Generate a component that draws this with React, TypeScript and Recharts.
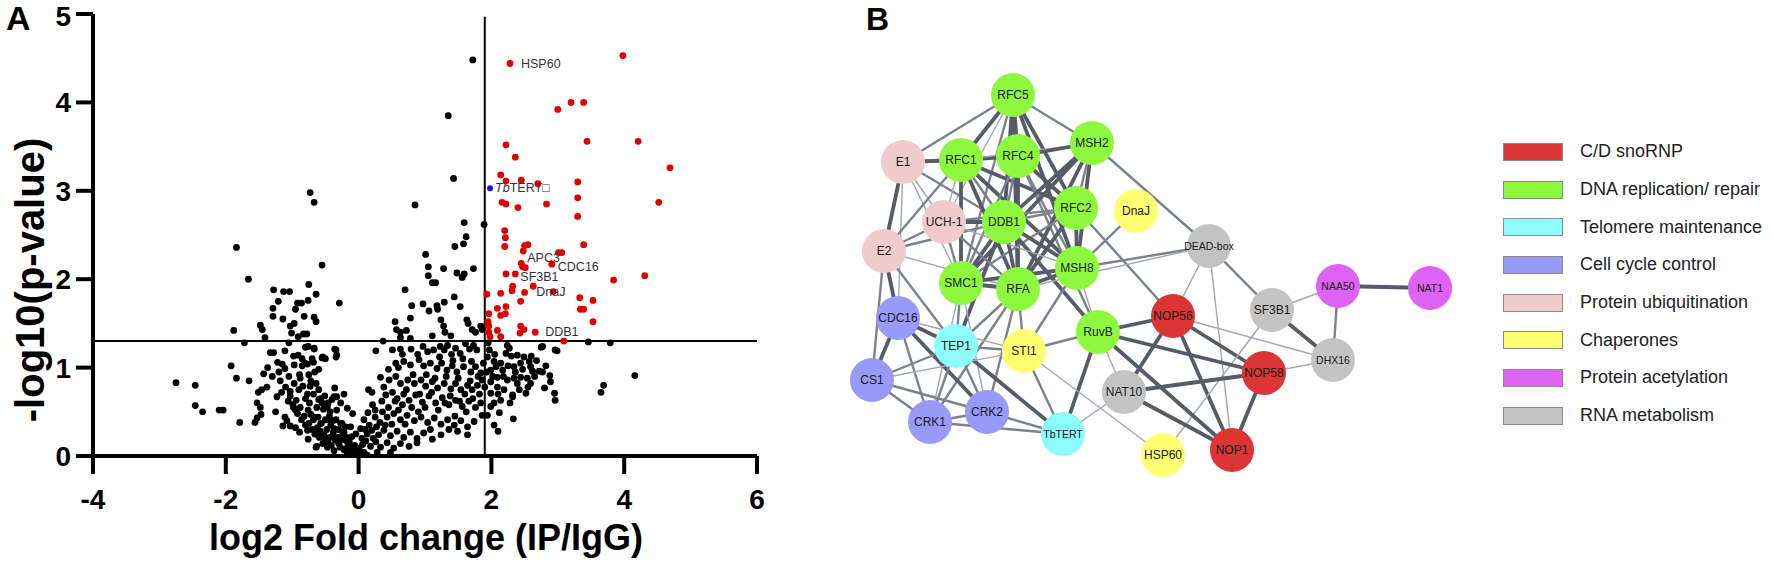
import React from "react"
import { ScatterChart, Scatter, XAxis, YAxis, ReferenceLine } from "recharts"

const FONT = '"Liberation Sans", Arial, Helvetica, sans-serif'

// ---- panel A: volcano plot ----
const xTicks = [-4, -2, 0, 2, 4, 6]
const yTicks = [0, 1, 2, 3, 4, 5]
const pCutoff = 1.3
const foldCutoff = 1.9

// not enriched (black)
const nonSig: [number, number][] = [
  [-0.73, 2.98], [-0.67, 2.87], [-1.84, 2.36], [-1.66, 2.0], [-0.55, 2.16], [-0.29, 1.73], [-0.75, 1.94],
  [-1.28, 1.88], [-1.13, 1.86], [-1.04, 1.86], [-0.64, 1.83], [-1.21, 1.75], [-0.92, 1.73], [-0.86, 1.73],
  [-0.76, 1.76], [-1.29, 1.67], [-0.95, 1.66], [-1.29, 1.58], [-1.14, 1.55], [-0.82, 1.58], [-0.67, 1.57],
  [-0.64, 1.52], [-1.88, 1.42], [-1.48, 1.48], [-1.45, 1.43], [-1.41, 1.34], [-1.03, 1.47], [-0.97, 1.5],
  [-1.01, 1.39], [-0.91, 1.35], [-0.83, 1.38], [-0.78, 1.38], [-1.72, 1.28], [-1.05, 1.28], [-0.8, 1.23],
  [-0.76, 1.24], [-0.67, 1.21], [-1.33, 1.17], [-1.28, 1.17], [-1.11, 1.19], [-0.98, 1.13], [-0.91, 1.14],
  [-0.85, 1.1], [-0.55, 1.11], [-0.5, 1.1], [-0.34, 1.2], [-0.34, 1.12], [-1.22, 1.06], [-1.15, 1.04],
  [-1.11, 0.99], [-0.97, 1.03], [-0.85, 1.02], [-0.77, 1.04], [-0.68, 1.06], [-1.92, 1.02], [-1.43, 0.93],
  [-1.84, 0.88], [-1.65, 0.85], [-0.89, 0.92], [-0.75, 0.92], [-0.66, 0.95], [-0.6, 0.98], [-2.75, 0.83],
  [-2.46, 0.8], [-1.38, 0.78], [-1.46, 0.75], [-1.51, 0.72], [-1.23, 0.67], [-1.03, 0.73], [-0.97, 0.82],
  [-0.9, 0.75], [-0.84, 0.79], [-0.73, 0.79], [-0.64, 0.82], [-0.6, 0.75], [-0.68, 0.7], [-0.51, 0.68],
  [-0.36, 0.77], [-0.22, 0.7], [-1.03, 0.68], [-0.94, 0.63], [-0.8, 0.65], [-0.74, 0.6], [-0.6, 0.64],
  [-0.46, 0.6], [-0.4, 0.64], [-0.33, 0.67], [-2.46, 0.57], [-2.35, 0.5], [-2.1, 0.52], [-2.04, 0.52],
  [-1.53, 0.6], [-1.48, 0.55], [-1.47, 0.47], [-1.53, 0.43], [-1.79, 0.38], [-1.56, 0.38], [-0.98, 0.55],
  [-0.95, 0.52], [-0.76, 0.52], [-0.63, 0.55], [-0.53, 0.53], [-0.43, 0.5], [-0.33, 0.52], [-1.11, 0.44],
  [-1.08, 0.4], [-1.14, 0.34], [-1.03, 0.34], [-0.95, 0.32], [-0.86, 0.41], [-0.89, 0.27], [-0.75, 0.37],
  [-0.68, 0.41], [-0.61, 0.44], [-0.56, 0.37], [-0.5, 0.41], [-0.42, 0.35], [-0.34, 0.41], [-0.25, 0.37],
  [-0.2, 0.33], [-0.76, 0.19], [-0.64, 0.1], [-0.59, 0.21], [-0.54, 0.14], [-0.43, 0.21], [-0.38, 0.27],
  [-0.31, 0.21], [-0.26, 0.18], [-0.18, 0.21], [-0.16, 0.14], [-0.11, 0.1], [-0.08, 0.06],
  [-1.2, 0.95], [-1.18, 0.85], [-1.1, 0.78], [-1.06, 0.62], [-0.99, 0.58], [-0.92, 0.48], [-0.88, 0.55],
  [-0.82, 0.45], [-0.8, 0.35], [-0.72, 0.47], [-0.7, 0.3], [-0.66, 0.25], [-0.62, 0.32], [-0.58, 0.28],
  [-0.55, 0.6], [-0.52, 0.24], [-0.48, 0.3], [-0.46, 0.15], [-0.44, 0.45], [-0.41, 0.12], [-0.39, 0.4],
  [-0.35, 0.18], [-0.3, 0.3], [-0.28, 0.1], [-0.24, 0.24], [-0.21, 0.08], [-0.14, 0.16], [-0.1, 0.22],
  [-0.06, 0.12], [-0.03, 0.03], [-1.25, 0.5], [-1.3, 0.9], [-1.37, 1.0], [-1.16, 0.72], [-0.72, 0.85],
  [-0.88, 0.88], [-0.7, 1.1], [-1.05, 0.9],
  [1.72, 4.48], [1.35, 3.85], [1.43, 3.14], [0.85, 2.84], [1.89, 2.62], [1.59, 2.64], [1.62, 2.48],
  [1.45, 2.37], [1.58, 2.4], [1.01, 2.28], [1.05, 2.14], [1.05, 2.04], [1.11, 1.96], [1.16, 1.96],
  [1.28, 2.12], [1.48, 2.07], [1.56, 2.02], [1.59, 2.06], [1.73, 2.12], [0.7, 1.88], [1.44, 1.8],
  [0.97, 1.72], [0.8, 1.7], [1.06, 1.64], [1.18, 1.7], [1.19, 1.66], [1.29, 1.74], [1.53, 1.69],
  [0.55, 1.52], [0.78, 1.56], [0.57, 1.43], [0.63, 1.4], [0.72, 1.42], [0.63, 1.34], [0.78, 1.33],
  [1.11, 1.36], [1.24, 1.54], [1.28, 1.47], [1.3, 1.4], [1.39, 1.36], [1.63, 1.54], [1.65, 1.5],
  [1.71, 1.43], [1.76, 1.4], [1.84, 1.47], [1.86, 1.43], [0.37, 1.3], [0.26, 1.19], [0.51, 1.2],
  [0.63, 1.21], [0.66, 1.15], [0.79, 1.21], [0.89, 1.15], [0.97, 1.24], [1.04, 1.18], [1.13, 1.2],
  [1.23, 1.24], [1.29, 1.2], [1.34, 1.25], [1.4, 1.15], [1.46, 1.22], [1.53, 1.16], [1.61, 1.27],
  [1.67, 1.21], [1.73, 1.25], [1.78, 1.2], [-0.36, 1.21], [-0.33, 1.14], [-0.67, 1.22], [-0.54, 1.12],
  [-0.81, 1.05], [0.56, 1.05], [0.68, 1.07], [0.78, 1.03], [0.91, 1.09], [0.98, 1.02], [1.08, 1.05],
  [1.18, 0.99], [1.25, 1.05], [1.33, 0.97], [1.41, 1.02], [1.48, 0.95], [1.58, 1.01], [1.69, 0.95],
  [1.76, 1.01], [1.84, 0.94], [0.33, 0.89], [0.46, 0.86], [0.56, 0.9], [0.63, 0.82], [0.74, 0.86],
  [0.84, 0.82], [0.94, 0.86], [1.01, 0.79], [1.11, 0.84], [1.19, 0.77], [1.29, 0.82], [1.39, 0.76],
  [1.46, 0.82], [1.54, 0.75], [1.64, 0.8], [1.71, 0.75], [1.79, 0.8], [1.86, 0.86], [0.15, 0.75],
  [0.2, 0.72], [0.38, 0.78], [0.41, 0.69], [0.51, 0.72], [0.58, 0.65], [0.68, 0.7], [0.76, 0.63],
  [0.86, 0.69], [0.96, 0.61], [1.06, 0.68], [1.16, 0.6], [1.26, 0.66], [1.36, 0.58], [1.46, 0.63],
  [1.56, 0.56], [1.66, 0.62], [1.76, 0.55], [1.84, 0.6], [-0.77, 0.7], [-0.57, 0.65], [-0.47, 0.56],
  [-0.37, 0.67], [-0.27, 0.6], [-0.17, 0.54], [-0.09, 0.48], [0.21, 0.58], [0.14, 0.49], [0.08, 0.41],
  [0.25, 0.44], [0.36, 0.5], [0.43, 0.44], [0.53, 0.48], [0.63, 0.41], [0.73, 0.46], [0.84, 0.4],
  [0.94, 0.44], [1.04, 0.38], [1.14, 0.43], [1.24, 0.36], [1.34, 0.41], [1.44, 0.35], [1.54, 0.4],
  [1.64, 0.33], [1.74, 0.39], [1.86, 0.46], [-0.67, 0.44], [-0.57, 0.37], [-0.45, 0.41], [-0.37, 0.31],
  [-0.27, 0.37], [-0.22, 0.27], [-0.12, 0.33], [-0.04, 0.25], [0.03, 0.31], [0.13, 0.25], [0.2, 0.29],
  [0.3, 0.24], [0.38, 0.29], [0.48, 0.23], [0.58, 0.28], [0.68, 0.21], [0.78, 0.27], [0.88, 0.2],
  [0.98, 0.26], [1.11, 0.19], [1.24, 0.24], [1.36, 0.3], [1.49, 0.28], [1.64, 0.24], [-0.77, 0.29],
  [-0.62, 0.24], [-0.5, 0.18], [-0.4, 0.22], [-0.3, 0.14], [-0.2, 0.18], [-0.12, 0.1], [-0.07, 0.07],
  [-0.02, 0.05], [0.01, 0.09], [0.06, 0.13], [0.11, 0.17], [0.18, 0.11], [0.26, 0.16], [0.33, 0.1],
  [0.43, 0.15], [0.53, 0.09], [0.63, 0.14], [0.76, 0.11], [0.88, 0.15], [-0.63, 0.11], [-0.47, 0.1],
  [-0.37, 0.06], [-0.22, 0.07], [-0.17, 0.04], [-0.09, 0.02], [-0.04, 0.01], [0.02, 0.02], [0.08, 0.04],
  [0.13, 0.01], [0.28, 0.04], [0.48, 0.04],
  [0.05, 0.2], [0.1, 0.3], [0.16, 0.35], [0.22, 0.2], [0.27, 0.33], [0.32, 0.38], [0.4, 0.35],
  [0.45, 0.55], [0.5, 0.36], [0.55, 0.62], [0.6, 0.52], [0.66, 0.58], [0.7, 0.36], [0.72, 0.75],
  [0.8, 0.55], [0.82, 0.92], [0.9, 0.5], [0.92, 0.7], [1.0, 0.55], [1.02, 0.92], [1.08, 0.3],
  [1.1, 0.72], [1.15, 0.88], [1.2, 0.52], [1.22, 1.12], [1.3, 0.6], [1.32, 0.9], [1.38, 0.68],
  [1.42, 1.08], [1.45, 0.45], [1.5, 0.88], [1.52, 0.62], [1.57, 1.1], [1.6, 0.7], [1.62, 0.5],
  [1.68, 0.85], [1.7, 1.07], [1.72, 0.65], [1.8, 0.9], [1.82, 0.7], [1.88, 1.05], [1.9, 0.78],
  [1.93, 0.95], [1.95, 1.28], [0.45, 0.98], [0.6, 1.0], [0.35, 0.62], [0.25, 0.52],
  [3.46, 1.29], [3.79, 1.28], [4.16, 0.91], [3.69, 0.8], [3.65, 0.72], [2.75, 1.23], [2.77, 1.24],
  [2.96, 1.2], [2.99, 1.19], [2.24, 1.25], [2.27, 1.22], [2.22, 1.16], [2.3, 1.13], [2.39, 1.14],
  [2.49, 1.12], [2.6, 1.13], [1.97, 1.2], [1.94, 1.12], [2.04, 1.07], [2.14, 1.05], [2.07, 1.01],
  [1.99, 0.97], [2.17, 0.97], [2.34, 1.01], [2.44, 1.05], [2.57, 1.07], [2.59, 1.01], [2.62, 0.96],
  [2.72, 0.96], [2.77, 0.95], [2.88, 0.91], [2.89, 0.84], [2.44, 0.89], [2.34, 0.88], [2.24, 0.86],
  [2.09, 0.89], [1.99, 0.84], [2.54, 0.88], [2.59, 0.82], [2.8, 0.77], [2.95, 0.71], [2.96, 0.63],
  [2.52, 0.71], [2.32, 0.69], [2.19, 0.75], [2.09, 0.78], [1.99, 0.71], [2.04, 0.6], [1.99, 0.56],
  [2.12, 0.49], [1.94, 0.46], [2.33, 0.42], [2.32, 0.67], [2.39, 0.82], [2.14, 0.63],
  [2.02, 0.9], [2.05, 1.15], [2.1, 0.7], [2.18, 0.9], [2.25, 1.02], [2.28, 0.6], [2.36, 0.95],
  [2.42, 0.75], [2.47, 0.98], [2.55, 0.78], [2.65, 0.9], [2.68, 1.08], [2.82, 1.02], [2.04, 0.35],
  [2.1, 0.28],
]

// enriched (red)
const sig: [number, number][] = [
  [2.28, 4.44], [3.98, 4.53], [3.0, 3.92], [3.2, 4.0], [3.39, 4.0], [2.22, 3.52], [3.44, 3.56],
  [4.21, 3.56], [2.36, 3.38], [4.69, 3.26], [2.14, 3.18], [2.22, 3.11], [2.45, 3.12], [2.7, 3.08],
  [3.3, 3.1], [2.16, 2.87], [2.22, 2.85], [2.4, 2.81], [2.83, 2.85], [3.3, 2.92], [4.52, 2.87],
  [3.3, 2.71], [2.2, 2.55], [2.21, 2.47], [2.2, 2.37], [2.5, 2.38], [2.55, 2.39], [3.39, 2.39],
  [2.48, 2.32], [3.01, 2.3], [3.06, 2.3], [2.45, 2.18], [2.47, 2.14], [2.51, 2.13], [2.91, 2.17],
  [2.22, 2.06], [2.36, 2.06], [3.84, 1.99], [4.31, 2.04], [2.32, 1.92], [2.63, 1.92], [1.93, 1.83],
  [2.14, 1.84], [2.31, 1.87], [2.5, 1.85], [2.93, 1.86], [2.44, 1.75], [3.33, 1.79], [3.53, 1.76],
  [2.09, 1.67], [2.22, 1.69], [2.21, 1.61], [2.14, 1.59], [1.96, 1.61], [3.34, 1.66], [3.39, 1.66],
  [3.53, 1.52], [1.95, 1.52], [1.96, 1.47], [2.44, 1.47], [2.49, 1.43], [2.09, 1.42], [2.43, 1.39],
  [2.66, 1.4], [1.96, 1.4], [1.98, 1.35], [2.14, 1.35], [3.09, 1.3],
]

const tbtert: [number, number][] = [[1.98, 3.03]]

const labeled = [
  { name: "HSP60", x: 2.28, y: 4.44 },
  { name: "TbTERT", x: 1.98, y: 3.03 },
  { name: "APC3", x: 2.45, y: 2.18 },
  { name: "CDC16", x: 2.91, y: 2.17 },
  { name: "SF3B1", x: 2.36, y: 2.06 },
  { name: "DnaJ", x: 2.63, y: 1.92 },
  { name: "DDB1", x: 2.66, y: 1.4 },
]
const labelOffset: Record<string, [number, number]> = {
  HSP60: [11, 0], TbTERT: [5, 0], APC3: [6, -5], CDC16: [6, 3], SF3B1: [5, 3], DnaJ: [3, 6], DDB1: [10, 0],
}

const toXY = (arr: [number, number][]) => arr.map(([x, y]) => ({ x, y }))

const dot = (color: string, r: number) => (p: any) => <circle cx={p.cx} cy={p.cy} r={r} fill={color} />

const volcanoLabel = (p: any) => {
  const [dx, dy] = labelOffset[p.payload.name] || [6, 0]
  const common = { x: p.cx + dx, y: p.cy + dy, fontSize: 12.5, fontFamily: FONT, fill: "#333", dominantBaseline: "central" as const }
  if (p.payload.name === "TbTERT") {
    return (
      <text {...common}>
        <tspan fontStyle="italic">Tb</tspan>TERT{"\u25A1"}
      </text>
    )
  }
  return <text {...common}>{p.payload.name}</text>
}

const axisStroke = { stroke: "#000", strokeWidth: 4 }
const tickStyle = { fill: "#000", fontSize: 28, fontWeight: 700, fontFamily: FONT }

function Volcano() {
  return (
    <ScatterChart width={780} height={575} margin={{ top: 14, right: 23, bottom: 59, left: 0 }}>
      <XAxis type="number" dataKey="x" domain={[-4, 6]} ticks={xTicks} height={60} tickSize={18} tickMargin={15}
        axisLine={axisStroke} tickLine={axisStroke} tick={tickStyle} allowDataOverflow />
      <YAxis type="number" dataKey="y" domain={[0, 5]} ticks={yTicks} width={93} tickSize={17} tickMargin={5}
        axisLine={axisStroke} tickLine={axisStroke} tick={tickStyle} allowDataOverflow />
      <ReferenceLine y={pCutoff} stroke="#000" strokeWidth={2} />
      <ReferenceLine segment={[{ x: foldCutoff, y: 0 }, { x: foldCutoff, y: 4.97 }]} stroke="#000" strokeWidth={2} />
      <Scatter data={toXY(nonSig)} fill="#000" shape={dot("#000", 3.4)} isAnimationActive={false} />
      <Scatter data={toXY(sig)} fill="#e00000" shape={dot("#e00000", 3.4)} isAnimationActive={false} />
      <Scatter data={toXY(tbtert)} fill="#1515ff" shape={dot("#1515ff", 3)} isAnimationActive={false} />
      <Scatter data={labeled} shape={volcanoLabel} isAnimationActive={false} />
    </ScatterChart>
  )
}

// ---- panel B: interaction network ----
const groupColor: Record<string, string> = {
  snorna: "#dc3535",
  dna: "#8ef83e",
  telo: "#8cfcfc",
  cycle: "#9999f7",
  ubi: "#f0cbcb",
  chap: "#ffff72",
  acet: "#e062f5",
  rna: "#c3c3c3",
}

const categories = [
  { key: "snorna", label: "C/D snoRNP" },
  { key: "dna", label: "DNA replication/ repair" },
  { key: "telo", label: "Telomere maintenance" },
  { key: "cycle", label: "Cell cycle control" },
  { key: "ubi", label: "Protein ubiquitination" },
  { key: "chap", label: "Chaperones" },
  { key: "acet", label: "Protein acetylation" },
  { key: "rna", label: "RNA metabolism" },
]

// layout coordinates of each protein in the network
const nodes = [
  { id: "RFC5", group: "dna", x: 173, y: 55 },
  { id: "MSH2", group: "dna", x: 252, y: 103 },
  { id: "E1", group: "ubi", x: 63, y: 122 },
  { id: "RFC1", group: "dna", x: 121, y: 120 },
  { id: "RFC4", group: "dna", x: 178, y: 116 },
  { id: "RFC2", group: "dna", x: 236, y: 168 },
  { id: "DnaJ", group: "chap", x: 296, y: 171 },
  { id: "UCH-1", group: "ubi", x: 104, y: 182 },
  { id: "DDB1", group: "dna", x: 164, y: 182 },
  { id: "E2", group: "ubi", x: 44, y: 211 },
  { id: "DEAD-box", group: "rna", x: 369, y: 206 },
  { id: "MSH8", group: "dna", x: 237, y: 228 },
  { id: "SMC1", group: "dna", x: 121, y: 243 },
  { id: "RFA", group: "dna", x: 178, y: 249 },
  { id: "NOP56", group: "snorna", x: 333, y: 276 },
  { id: "SF3B1", group: "rna", x: 432, y: 270 },
  { id: "CDC16", group: "cycle", x: 58, y: 278 },
  { id: "RuvB", group: "dna", x: 258, y: 292 },
  { id: "TEP1", group: "telo", x: 116, y: 306 },
  { id: "STI1", group: "chap", x: 184, y: 311 },
  { id: "NOP58", group: "snorna", x: 424, y: 333 },
  { id: "DHX16", group: "rna", x: 493, y: 320 },
  { id: "NAA50", group: "acet", x: 498, y: 246 },
  { id: "NAT1", group: "acet", x: 590, y: 248 },
  { id: "CS1", group: "cycle", x: 32, y: 340 },
  { id: "NAT10", group: "rna", x: 284, y: 352 },
  { id: "CRK2", group: "cycle", x: 147, y: 372 },
  { id: "CRK1", group: "cycle", x: 90, y: 382 },
  { id: "TbTERT", group: "telo", x: 223, y: 394 },
  { id: "HSP60", group: "chap", x: 323, y: 415 },
  { id: "NOP1", group: "snorna", x: 392, y: 410 },
]

// [from, to, confidence 1..3]
const edges: [string, string, number][] = [
  ["RFC5", "E1", 2], ["RFC5", "RFC1", 3], ["RFC5", "RFC4", 3], ["RFC5", "MSH2", 2], ["RFC5", "DDB1", 3],
  ["RFC5", "RFC2", 3], ["RFC5", "MSH8", 3], ["RFC5", "RFA", 3], ["RFC5", "UCH-1", 1], ["RFC5", "SMC1", 2],
  ["E1", "RFC1", 3], ["E1", "E2", 3], ["E1", "UCH-1", 1], ["E1", "DDB1", 2], ["E1", "SMC1", 1], ["E1", "CDC16", 1],
  ["RFC1", "RFC4", 3], ["RFC1", "DDB1", 2], ["RFC1", "RFC2", 3], ["RFC1", "MSH8", 3], ["RFC1", "RFA", 3],
  ["RFC1", "SMC1", 3], ["RFC1", "UCH-1", 1], ["RFC1", "E2", 2], ["RFC1", "MSH2", 1],
  ["RFC4", "MSH2", 3], ["RFC4", "DDB1", 2], ["RFC4", "RFC2", 3], ["RFC4", "MSH8", 2], ["RFC4", "RFA", 3],
  ["RFC4", "SMC1", 2], ["RFC4", "RuvB", 2],
  ["MSH2", "DDB1", 3], ["MSH2", "MSH8", 3], ["MSH2", "RFA", 3], ["MSH2", "SMC1", 3], ["MSH2", "DEAD-box", 2], ["MSH2", "RFC2", 2],
  ["RFC2", "DDB1", 2], ["RFC2", "MSH8", 3], ["RFC2", "RFA", 3], ["RFC2", "SMC1", 2], ["RFC2", "NOP56", 2], ["RFC2", "UCH-1", 2],
  ["DDB1", "UCH-1", 3], ["DDB1", "SMC1", 3], ["DDB1", "RFA", 3], ["DDB1", "MSH8", 3], ["DDB1", "E2", 2],
  ["DDB1", "TEP1", 3], ["DDB1", "RuvB", 3],
  ["UCH-1", "E2", 2], ["UCH-1", "RFA", 2], ["UCH-1", "SMC1", 2], ["UCH-1", "MSH8", 1],
  ["E2", "CDC16", 3], ["E2", "CS1", 2], ["E2", "RFA", 1], ["E2", "TEP1", 2],
  ["DEAD-box", "MSH8", 2], ["DEAD-box", "RFA", 1], ["DEAD-box", "NOP56", 1], ["DEAD-box", "SF3B1", 2], ["DEAD-box", "NOP1", 1],
  ["MSH8", "RFA", 3], ["MSH8", "SMC1", 3], ["MSH8", "DnaJ", 2], ["MSH8", "RuvB", 1], ["MSH8", "STI1", 2],
  ["SMC1", "RFA", 3], ["SMC1", "TEP1", 2], ["SMC1", "CRK2", 1], ["SMC1", "CRK1", 1],
  ["RFA", "TEP1", 2], ["RFA", "CRK1", 2], ["RFA", "CRK2", 2], ["RFA", "STI1", 2],
  ["NOP56", "RuvB", 3], ["NOP56", "NOP58", 3], ["NOP56", "NOP1", 3], ["NOP56", "NAT10", 3], ["NOP56", "DHX16", 1],
  ["SF3B1", "NAA50", 1], ["SF3B1", "DHX16", 3], ["SF3B1", "HSP60", 1],
  ["DHX16", "NAA50", 2], ["DHX16", "NOP58", 1], ["NAA50", "NAT1", 3],
  ["CDC16", "TEP1", 3], ["CDC16", "CS1", 3], ["CDC16", "CRK1", 2], ["CDC16", "CRK2", 3], ["CDC16", "STI1", 1],
  ["RuvB", "STI1", 2], ["RuvB", "NOP58", 3], ["RuvB", "NOP1", 3], ["RuvB", "NAT10", 1], ["RuvB", "TbTERT", 3],
  ["TEP1", "STI1", 2], ["TEP1", "CS1", 2], ["TEP1", "CRK1", 2], ["TEP1", "CRK2", 2], ["TEP1", "TbTERT", 3],
  ["STI1", "CS1", 1], ["STI1", "TbTERT", 2], ["STI1", "HSP60", 1],
  ["NOP58", "NAT10", 3], ["NOP58", "NOP1", 3],
  ["CS1", "CRK1", 2], ["CS1", "CRK2", 2],
  ["NAT10", "NOP1", 3], ["NAT10", "TbTERT", 1],
  ["CRK2", "CRK1", 2], ["CRK2", "TbTERT", 2], ["CRK1", "TbTERT", 2],
]

const edgeStyle: Record<number, { stroke: string; strokeWidth: number }> = {
  1: { stroke: "#a3a7b0", strokeWidth: 1.4 },
  2: { stroke: "#7c828c", strokeWidth: 2.4 },
  3: { stroke: "#555b67", strokeWidth: 3.8 },
}

const nodeById: Record<string, { x: number; y: number }> = Object.fromEntries(nodes.map((n) => [n.id, n]))

const noMark = () => <g />

const nodeShape = (p: any) => {
  const n = p.payload
  const small = n.id === "DEAD-box" || n.id === "NAA50" || n.id === "DHX16" || n.id === "NAT1" || n.id === "TbTERT"
  return (
    <g>
      <circle cx={p.cx} cy={p.cy} r={22} fill={groupColor[n.group]} />
      <text x={p.cx} y={p.cy} textAnchor="middle" dominantBaseline="central" fontFamily={FONT}
        fontSize={small ? 10.5 : 12} fill="#1a1a1a">
        {n.id}
      </text>
    </g>
  )
}

function Network() {
  return (
    <ScatterChart width={620} height={460} margin={{ top: 0, right: 0, bottom: 0, left: 0 }}>
      <XAxis type="number" dataKey="x" domain={[0, 620]} hide />
      <YAxis type="number" dataKey="y" domain={[0, 460]} reversed hide />
      {edges.map(([a, b, w], i) => {
        const s = edgeStyle[w]
        return (
          <Scatter key={i} data={[nodeById[a], nodeById[b]]} fill={s.stroke} line={s} shape={noMark}
            isAnimationActive={false} />
        )
      })}
      <Scatter data={nodes} shape={nodeShape} isAnimationActive={false} />
    </ScatterChart>
  )
}

function NetworkLegend() {
  return (
    <div style={{ position: "absolute", left: 1503, top: 133, fontFamily: FONT }}>
      {categories.map((c) => (
        <div key={c.key} style={{ display: "flex", alignItems: "center", height: 37.7 }}>
          <div style={{ width: 60, height: 18, background: groupColor[c.key], border: "1px solid #8c8c8c", boxSizing: "border-box" }} />
          <span style={{ marginLeft: 17, fontSize: 18, color: "#222", whiteSpace: "nowrap" }}>{c.label}</span>
        </div>
      ))}
    </div>
  )
}

export default function App() {
  return (
    <div style={{ position: "absolute", left: 0, top: 0, width: 1772, height: 575, background: "#fff", overflow: "hidden" }}>
      <div style={{ position: "absolute", left: 0, top: 0 }}>
        <Volcano />
      </div>
      <div style={{ position: "absolute", left: 840, top: 40 }}>
        <Network />
      </div>
      <NetworkLegend />
      <svg width={1772} height={575} style={{ position: "absolute", left: 0, top: 0, pointerEvents: "none" }}>
        <text x={6} y={30} fontFamily={FONT} fontWeight={700} fontSize={34} fill="#000">A</text>
        <text x={866} y={30} fontFamily={FONT} fontWeight={700} fontSize={32} fill="#000">B</text>
        <text transform="translate(30,280) rotate(-90)" textAnchor="middle" dominantBaseline="central"
          fontFamily={FONT} fontWeight={700} fontSize={40} fill="#000">-log10(p-value)</text>
        <text x={426} y={550} textAnchor="middle" fontFamily={FONT} fontWeight={700} fontSize={36} fill="#000">
          log2 Fold change (IP/IgG)
        </text>
      </svg>
    </div>
  )
}
